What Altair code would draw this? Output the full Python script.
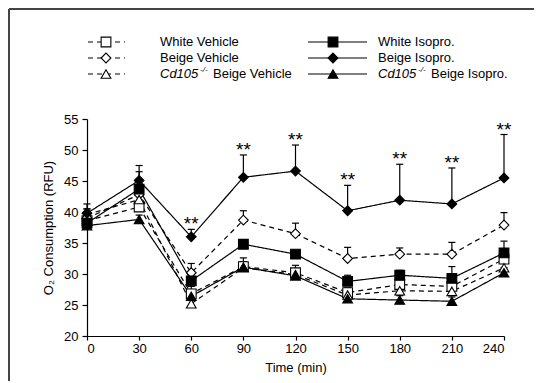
import altair as alt
import pandas as pd

# ---------------- data ----------------
times = [0, 30, 60, 90, 120, 150, 180, 210, 240]
y_ticks = [20, 25, 30, 35, 40, 45, 50, 55]
series_names = ["White Vehicle", "Beige Vehicle", "Cd105 Beige Vehicle",
                "White Isopro.", "Beige Isopro.", "Cd105 Beige Isopro."]

white_vehicle = [38.6, 40.8, 26.8, 31.2, 30.2, 27.0, 28.3, 28.0, 32.4]
white_vehicle_up = [40.0, 41.6, 28.0, 32.6, 31.4, 27.8, 29.0, 29.0, 34.0]
beige_vehicle = [39.0, 42.8, 30.2, 38.7, 36.5, 32.5, 33.2, 33.2, 37.9]
beige_vehicle_up = [40.5, 46.5, 31.7, 40.2, 38.2, 34.3, 34.2, 35.1, 39.9]
cd105_vehicle = [39.6, 42.0, 25.2, 31.0, 29.9, 26.6, 27.3, 27.2, 31.0]
cd105_vehicle_up = [40.5, 43.0, 26.5, 32.0, 30.5, 27.5, 28.0, 28.0, 32.0]
white_isopro = [38.2, 43.7, 28.9, 34.8, 33.2, 28.8, 29.8, 29.3, 33.4]
white_isopro_up = [39.0, 44.5, 30.0, 35.5, 33.6, 29.8, 30.6, 31.2, 35.3]
beige_isopro = [39.8, 45.1, 36.0, 45.6, 46.6, 40.2, 41.9, 41.3, 45.5]
beige_isopro_up = [41.3, 47.5, 37.2, 49.2, 50.8, 44.3, 47.7, 47.1, 52.5]
cd105_isopro = [37.8, 38.8, 26.4, 31.1, 29.7, 26.0, 25.8, 25.6, 30.2]
cd105_isopro_up = [39.5, 39.5, 27.5, 32.0, 30.5, 26.5, 26.5, 26.3, 31.0]

star_times = [60, 90, 120, 150, 180, 210, 240]

means = [white_vehicle, beige_vehicle, cd105_vehicle, white_isopro, beige_isopro, cd105_isopro]
uppers = [white_vehicle_up, beige_vehicle_up, cd105_vehicle_up, white_isopro_up, beige_isopro_up, cd105_isopro_up]

rows = []
for name, m, u in zip(series_names, means, uppers):
    for t, mv, uv in zip(times, m, u):
        rows.append({"series": name, "time": t, "value": mv, "upper": uv})
df = pd.DataFrame(rows)

stars_df = df[(df["series"] == "Beige Isopro.") & (df["time"].isin(star_times))].copy()
stars_df["label"] = "**"

# ---------------- styles ----------------
FONT = "Liberation Sans"
shapes = ["square", "diamond", "triangle-up", "square", "diamond", "triangle-up"]
fills = ["white", "white", "white", "black", "black", "black"]
dashes = [[5, 4], [5, 4], [5, 4], [1, 0], [1, 0], [1, 0]]
MSIZE = 95

x_scale = alt.Scale(domain=[0, 240], nice=False)
y_scale = alt.Scale(domain=[20, 55], nice=False, zero=False)
x_axis = alt.Axis(values=times, title="Time (min)", grid=False, tickSize=4,
                  titlePadding=6, labelPadding=2, labelOverlap=False)
y_axis = alt.Axis(values=y_ticks, title="O₂ Consumption (RFU)", grid=False,
                  tickSize=5, titlePadding=8, labelPadding=4, labelOverlap=False)


def X(field="time:Q"):
    return alt.X(field, scale=x_scale, axis=x_axis)


def Y(field):
    return alt.Y(field, scale=y_scale, axis=y_axis)


base = alt.Chart(df)

err_rule = base.mark_rule(color="black", strokeWidth=1.2).encode(
    x=X(), y=Y("value:Q"), y2="upper:Q")
err_cap = base.mark_point(shape="stroke", size=50, color="black", strokeWidth=1.2,
                          filled=False, opacity=1).encode(x=X(), y=Y("upper:Q"))

lines = base.mark_line(color="black", strokeWidth=1.2).encode(
    x=X(), y=Y("value:Q"),
    detail="series:N",
    strokeDash=alt.StrokeDash("series:N", scale=alt.Scale(domain=series_names, range=dashes), legend=None),
)

points = base.mark_point(size=MSIZE, stroke="black", strokeWidth=1.1, opacity=1, filled=False).encode(
    x=X(), y=Y("value:Q"),
    shape=alt.Shape("series:N", scale=alt.Scale(domain=series_names, range=shapes), legend=None),
    fill=alt.Fill("series:N", scale=alt.Scale(domain=series_names, range=fills), legend=None),
)

stars = alt.Chart(stars_df).mark_text(font=FONT, fontSize=19, color="black",
                                      baseline="middle", dy=-5).encode(
    x=X(), y=Y("upper:Q"), text="label:N")

# ---------------- manual legend ----------------
one = pd.DataFrame({"k": [0]})
legend_layers = []
row_y = [-77, -61, -45]
cols = [  # (line x0, line x1, symbol x, text x)
    (1, 38, 19, 73),
    (221, 280, 246, 291),
]
for i, name in enumerate(series_names):
    col = i // 3
    r = i % 3
    lx0, lx1, sx, tx = cols[col]
    yy = row_y[r]
    legend_layers.append(
        alt.Chart(one).mark_rule(color="black", strokeWidth=1.2, strokeDash=dashes[i]).encode(
            x=alt.value(lx0), x2=alt.value(lx1), y=alt.value(yy)))
    legend_layers.append(
        alt.Chart(one).mark_point(shape=shapes[i], size=MSIZE, stroke="black", strokeWidth=1.1,
                                  fill=fills[i], opacity=1, filled=True).encode(
            x=alt.value(sx), y=alt.value(yy)))
    if name.startswith("Cd105"):
        rest = name[len("Cd105 "):]
        legend_layers.append(
            alt.Chart(one).mark_text(text="Cd105", font=FONT, fontSize=13, fontStyle="italic",
                                     align="left", baseline="middle", color="black").encode(
                x=alt.value(tx), y=alt.value(yy)))
        legend_layers.append(
            alt.Chart(one).mark_text(text="-/-", font=FONT, fontSize=8, fontStyle="italic",
                                     align="left", baseline="middle", color="black").encode(
                x=alt.value(tx + 40), y=alt.value(yy - 4)))
        legend_layers.append(
            alt.Chart(one).mark_text(text=rest, font=FONT, fontSize=13,
                                     align="left", baseline="middle", color="black").encode(
                x=alt.value(tx + 53), y=alt.value(yy)))
    else:
        legend_layers.append(
            alt.Chart(one).mark_text(text=name, font=FONT, fontSize=13,
                                     align="left", baseline="middle", color="black").encode(
                x=alt.value(tx), y=alt.value(yy)))

# frame (outer border, clipped at the page edge like the reference)
frame_layers = [
    alt.Chart(one).mark_rule(color="#444444", strokeWidth=2).encode(
        x=alt.value(-78), x2=alt.value(470), y=alt.value(-110)),
    alt.Chart(one).mark_rule(color="#444444", strokeWidth=2).encode(
        x=alt.value(-78), y=alt.value(-110), y2=alt.value(270)),
]

chart = alt.layer(
    *frame_layers, err_rule, err_cap, lines, points, stars, *legend_layers
).properties(
    width=417, height=217,
    autosize=alt.AutoSizeParams(type="none"),
    padding={"left": 79, "top": 111, "right": 30, "bottom": 45},
).configure_view(stroke=None).configure_axis(
    labelFont=FONT, titleFont=FONT, labelFontSize=13, titleFontSize=13,
    titleFontWeight="normal", labelColor="black", titleColor="black",
    domainColor="black", tickColor="black", domainWidth=1.2, tickWidth=1.2,
)

chart.save("out.html", embed_options={"renderer": "svg", "actions": False})
